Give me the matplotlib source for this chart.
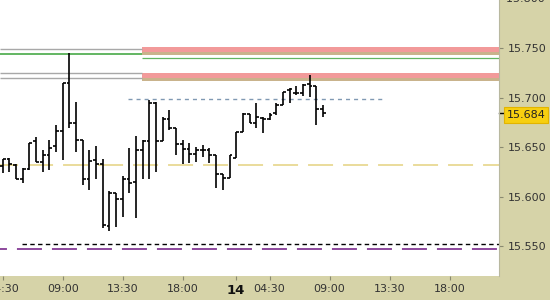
import matplotlib
matplotlib.use("Agg")
import matplotlib.pyplot as plt
import matplotlib.transforms as mtransforms

plt.rcParams['lines.scale_dashes'] = False
plt.rcParams['font.family'] = ['DejaVu Sans']

# 30 minute OHLC bars, one per index
opens = [15.631, 15.638, 15.632, 15.618, 15.628, 15.656, 15.635, 15.642, 15.651, 15.666,
         15.715, 15.674, 15.657, 15.618, 15.637, 15.633, 15.570, 15.604, 15.597, 15.618,
         15.615, 15.647, 15.656, 15.694, 15.656, 15.678, 15.669, 15.653, 15.648, 15.643,
         15.647, 15.647, 15.642, 15.623, 15.619, 15.639, 15.665, 15.683, 15.674, 15.679,
         15.678, 15.684, 15.692, 15.708, 15.705, 15.705, 15.714, 15.712, 15.688]
highs = [15.638, 15.639, 15.633, 15.629, 15.654, 15.660, 15.647, 15.657, 15.672, 15.715,
         15.745, 15.695, 15.657, 15.647, 15.651, 15.638, 15.606, 15.604, 15.621, 15.649,
         15.661, 15.657, 15.697, 15.695, 15.680, 15.687, 15.669, 15.657, 15.654, 15.650,
         15.652, 15.649, 15.642, 15.623, 15.642, 15.665, 15.684, 15.683, 15.694, 15.680,
         15.684, 15.694, 15.706, 15.710, 15.712, 15.714, 15.723, 15.712, 15.692]
lows = [15.624, 15.625, 15.618, 15.614, 15.627, 15.635, 15.625, 15.627, 15.645, 15.637,
        15.669, 15.645, 15.612, 15.607, 15.618, 15.568, 15.565, 15.569, 15.579, 15.604,
        15.578, 15.618, 15.618, 15.625, 15.656, 15.667, 15.642, 15.633, 15.634, 15.635,
        15.640, 15.634, 15.609, 15.607, 15.619, 15.639, 15.665, 15.674, 15.669, 15.664,
        15.677, 15.682, 15.692, 15.694, 15.703, 15.702, 15.701, 15.672, 15.680]
closes = [15.638, 15.633, 15.618, 15.628, 15.654, 15.635, 15.642, 15.649, 15.666, 15.715,
          15.674, 15.657, 15.618, 15.636, 15.633, 15.571, 15.604, 15.597, 15.618, 15.614,
          15.647, 15.656, 15.694, 15.656, 15.678, 15.669, 15.653, 15.648, 15.643, 15.647,
          15.647, 15.642, 15.623, 15.619, 15.642, 15.665, 15.683, 15.674, 15.680, 15.678,
          15.682, 15.692, 15.706, 15.709, 15.705, 15.713, 15.712, 15.688, 15.684]

x_ticks = [0, 9, 18, 27, 35, 40, 49, 58, 67]
x_labels = ['04:30', '09:00', '13:30', '18:00', '14', '04:30', '09:00', '13:30', '18:00']
y_ticks = [15.55, 15.60, 15.65, 15.70, 15.75]

# horizontal levels
gray_levels = [15.749, 15.7247, 15.7197]
green_old = 15.7444
green_new = 15.740
red_zones = [(15.743, 15.751), (15.7167, 15.7247)]
blue_level = 15.6985
yellow_level = 15.632
black_level = 15.552
purple_level = 15.547
last_price = 15.684

panel = '#d6d3a8'
fig = plt.figure(figsize=(5.5, 3.0), dpi=100, facecolor=panel)
ax = fig.add_axes([0, 24 / 300, 499 / 550, 276 / 300])
ax.set_facecolor('white')

x_min, x_max = -0.405, 74.4
split = 20.9

# old levels on the left part
for lv in gray_levels:
    ax.hlines(lv, x_min, split, color='#a8a8a8', lw=1.0, zorder=2)
ax.hlines(green_old, x_min, split, color='#62b562', lw=1.4, zorder=2)

# zones on the right part
for lo, hi in red_zones:
    ax.fill_between([split, x_max], lo, hi, color='#f29a9a', lw=0, zorder=1)
    ax.fill_between([split, x_max], lo, lo + (hi - lo) * 0.35, color='#c9b38c', lw=0, zorder=1)
ax.hlines(green_new, split, x_max, color='#62b562', lw=0.9, zorder=2)

ax.hlines(blue_level, 18.8, 57.0, color='#8099b3', lw=1.0, linestyles=(0, (2.9, 2.9)), zorder=2)
ax.hlines(yellow_level, x_min, x_max, color='#e6d68a', lw=1.2, linestyles=(5, (18, 7.2)), zorder=2)
ax.hlines(black_level, 2.9, x_max, color='black', lw=1.0, linestyles=(0, (3.2, 2.4)), zorder=2)
ax.hlines(purple_level, x_min, x_max, color='#7a2a8c', lw=1.2, linestyles=(13, (18, 7.2)), zorder=2)

# OHLC bars
idx = list(range(len(opens)))
tick = 0.42
ax.vlines(idx, lows, highs, color='black', lw=1.2, zorder=3)
ax.hlines(opens, [i - tick for i in idx], idx, color='black', lw=1.2, zorder=3)
ax.hlines(closes, idx, [i + tick for i in idx], color='black', lw=1.2, zorder=3)

ax.set_xlim(x_min, x_max)
ax.set_ylim(15.5197, 15.7985)

ax.yaxis.tick_right()
ax.set_yticks(y_ticks)
ax.set_yticklabels(['%.3f' % v for v in y_ticks])
ax.tick_params(axis='y', length=3, width=0.8, color='#8a8a70', pad=3,
               labelsize=8, labelcolor='#333333')
ax.set_xticks(x_ticks)
ax.set_xticklabels(x_labels)
ax.tick_params(axis='x', length=3, width=0.8, color='#8a8a70', pad=3,
               labelsize=8, labelcolor='#333333')
for lab in ax.get_xticklabels():
    if lab.get_text() == '14':
        lab.set_fontweight('bold')
        lab.set_fontsize(9.5)
        lab.set_color('#111111')

for s in ['top', 'left', 'bottom']:
    ax.spines[s].set_visible(False)
ax.spines['right'].set_color('#b8b8a0')

trans = mtransforms.blended_transform_factory(ax.transAxes, ax.transData)
ax.text(1.0, 15.800, '  15.800', transform=trans, va='center', ha='left',
        fontsize=8, color='#333333', clip_on=False)

# last price marker
ax.plot([1.0, 1.008], [last_price, last_price], transform=trans, color='black',
        lw=1.0, clip_on=False)
ax.text(1.015, last_price - 0.0018, '15.684', transform=trans, va='center', ha='left',
        fontsize=8, color='#222222', clip_on=False,
        bbox=dict(boxstyle='square,pad=0.25', facecolor='#f7cf10', edgecolor='#e2b400', lw=0.8))

fig.savefig('out.png', dpi=100, facecolor=panel)
